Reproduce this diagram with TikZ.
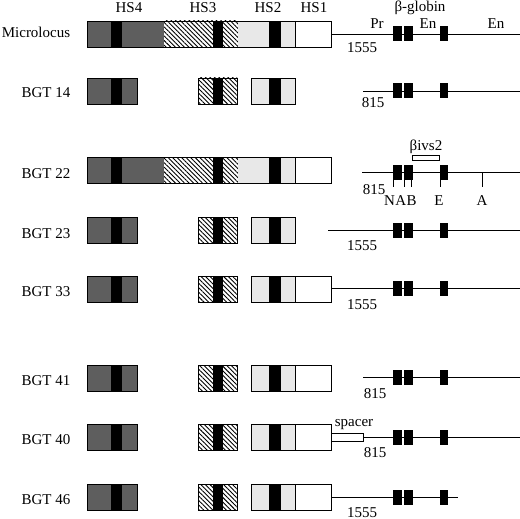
\documentclass[tikz,border=0pt]{standalone}
\usepackage{fontspec}
\setmainfont{Liberation Serif}
\definecolor{hsdark}{HTML}{5E5E5E}
\definecolor{hslight}{HTML}{E8E8E8}
\usetikzlibrary{patterns.meta}

\begin{document}
\begin{tikzpicture}[x=1pt, y=-1pt, font=\fontsize{15}{17}\selectfont,
    lab/.style={anchor=base, inner sep=0pt},
    outline/.style={draw, line width=0.9pt},
    hatch/.style={pattern={Lines[angle=-45, distance=3.2pt, line width=0.9pt]}},
    dna/.style={line width=0.8pt}]
  \useasboundingbox (0,0) rectangle (520,519);

  % column heads
  \foreach \x/\name/\txt in {129/hsfour/HS4, 203/hsthree/HS3, 268/hstwo/HS2, 314/hsone/HS1}
    \node[lab] (\name) at (\x,13) {\txt};
  \node[lab] (globin) at (420,12) {β-globin};
  \node[lab] (pr)  at (377,29) {Pr};
  \node[lab] (enA) at (428,29) {En};
  \node[lab] (enB) at (496,29) {En};

  % construct names
  \node[lab] (micro) at (36,38) {Microlocus};
  \foreach \y/\name/\txt in {98/bgt14/BGT 14, 178/bgt22/BGT 22, 238/bgt23/BGT 23,
      296/bgt33/BGT 33, 385/bgt41/BGT 41, 444/bgt40/BGT 40, 504/bgt46/BGT 46}
    \node[lab] (\name) at (46,\y) {\txt};

  % full locus (microlocus, BGT 22)
  \foreach \y in {34,170} {
    \fill[hsdark] (87,{\y-13}) rectangle (164,{\y+13});
    \fill[white] (164,{\y-13}) rectangle (238,{\y+13});
    \fill[hatch] (164,{\y-13}) rectangle (238,{\y+13});
    \fill[hslight] (238,{\y-13}) rectangle (295,{\y+13});
    \foreach \a/\b in {111/122, 213/223, 269/281}
      \fill (\a,{\y-13}) rectangle (\b,{\y+13});
    \draw[outline] (87,{\y-13}) rectangle (331,{\y+13});
    \draw[outline] (295,{\y-13}) -- (295,{\y+13});
  }

  % separate hypersensitive sites
  \foreach \y in {91,230,289,378,437,497} {
    \fill[hsdark] (87,{\y-13}) rectangle (137,{\y+13});
    \fill[white] (198,{\y-13}) rectangle (237,{\y+13});
    \fill[hatch] (198,{\y-13}) rectangle (237,{\y+13});
    \fill[hslight] (251,{\y-13}) rectangle (295,{\y+13});
    \foreach \a/\b in {111/122, 213/223, 269/281}
      \fill (\a,{\y-13}) rectangle (\b,{\y+13});
    \draw[outline] (87,{\y-13}) rectangle (137,{\y+13});
    \draw[outline] (198,{\y-13}) rectangle (237,{\y+13});
    \draw[outline] (251,{\y-13}) rectangle (295,{\y+13});
  }
  % HS1 kept
  \foreach \y in {289,378,437,497}
    \draw[outline, fill=white] (295,{\y-13}) rectangle (331,{\y+13});

  % beta-globin lines
  \foreach \y/\from/\to in {34/331/520, 91/363/520, 172/362/520, 230/328/520,
      288/331/520, 377/363/520, 437/363/520, 497/331/458}
    \draw[dna] (\from,\y) -- (\to,\y);
  \foreach \y in {34,91,172,230,288,377,437,497}
    \foreach \a/\b in {393/402, 404/413, 440/448}
      \fill (\a,{\y-7.5}) rectangle (\b,{\y+7.5});

  % fragment lengths
  \foreach \x/\y/\txt [count=\i] in {362/53/1555, 373/108/815, 374/194/815, 362/250/1555,
      362/309/1555, 375/398/815, 375/457/815, 362/517/1555}
    \node[lab] (len\i) at (\x,\y) {\txt};

  % BGT 22 probe and sites
  \draw[outline, line width=0.8pt, fill=white] (412,155) rectangle (439,160);
  \node[lab] (ivs) at (426,150) {βivs2};
  \foreach \x/\lx/\txt [count=\i] in {393/389.5/N, 404/400.7/A, 411/411.6/B, 440/439/E, 482/482/A} {
    \draw[dna] (\x,172) -- (\x,187);
    \node[lab] (site\i) at (\lx,205) {\txt};
  }

  % BGT 40 spacer
  \draw[outline, line width=0.8pt, fill=white] (331,433) rectangle (363,441);
  \node[lab] (spacer) at (354,426) {spacer};
\end{tikzpicture}
\end{document}
